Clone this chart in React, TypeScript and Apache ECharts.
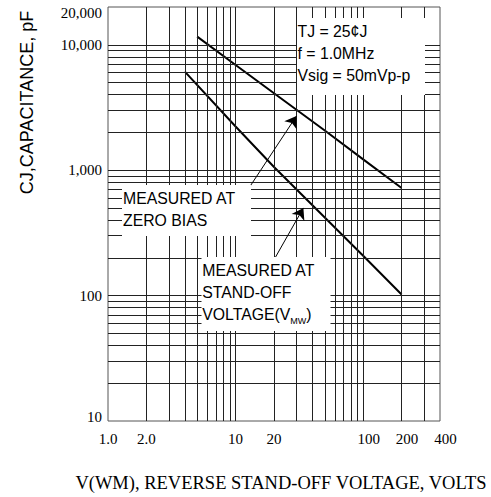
import React, { useEffect, useRef } from 'react';
import * as echarts from 'echarts';

// Axis ticks
const xTickValues = [1, 2, 10, 20, 100, 200, 400];
const xTickLabels = ['1.0', '2.0', '10', '20', '100', '200', '400'];
const yTickValues = [10, 100, 1000, 10000, 20000];
const yTickLabels = ['10', '100', '1,000', '10,000', '20,000'];

// Log grid lines
const xGridValues = [2, 3, 4, 5, 6, 7, 8, 9, 10, 20, 30, 40, 50, 60, 70, 80, 90, 100, 200, 300];
const yGridValues = [
  20, 30, 40, 50, 60, 70, 80, 90, 100,
  200, 300, 400, 500, 600, 700, 800, 900, 1000,
  2000, 3000, 4000, 5000, 6000, 7000, 8000, 9000, 10000,
];

// Measured at zero bias
const zeroBiasV = [5, 10, 20, 50, 100, 200];
const zeroBiasC = [11600, 6900, 4100, 2070, 1220, 720];
// Measured at stand-off voltage
const standOffV = [4, 10, 20, 50, 100, 200];
const standOffC = [6100, 2230, 1060, 420, 208, 102];

// Annotation arrows (data coordinates: [V, pF])
const arrowZeroBias = [[13, 745], [30, 2700]];
const arrowStandOff = [[20.4, 200], [34, 500]];

function findLabel(v: number, vals: number[], labels: string[]) {
  for (let i = 0; i < vals.length; i++) {
    if (Math.abs(Math.log10(v) - Math.log10(vals[i])) < 1e-6) return i;
  }
  return -1;
}

export default function App() {
  const ref = useRef<HTMLDivElement>(null);
  useEffect(() => {
    if (!ref.current) return;
    const chart = echarts.init(ref.current, undefined, { renderer: 'svg' });
    const serif = '"Liberation Serif", "Times New Roman", serif';
    const sans = '"Liberation Sans", Arial, sans-serif';
    const annoFont = `15.8px ${sans}`;
    const option: any = {
      animation: false,
      backgroundColor: '#fff',
      grid: {
        left: 108,
        top: 7,
        width: 332,
        height: 415,
        show: true,
        borderColor: '#555',
        borderWidth: 1,
        backgroundColor: 'transparent',
      },
      xAxis: {
        type: 'log',
        logBase: 10,
        min: 1,
        max: 400,
        name: 'V(WM), REVERSE STAND-OFF VOLTAGE, VOLTS',
        nameLocation: 'middle',
        nameGap: 52,
        nameTextStyle: {
          fontFamily: serif,
          fontSize: 18.5,
          color: '#000',
          padding: [0, 0, 0, 14],
        },
        axisLine: { show: false },
        axisTick: { show: false },
        splitLine: { show: false },
        minorTick: { show: false },
        axisLabel: {
          customValues: xTickValues,
          margin: 10,
          fontFamily: serif,
          fontSize: 15,
          color: '#000',
          formatter: (v: number) => {
            const i = findLabel(v, xTickValues, xTickLabels);
            if (i < 0) return '';
            const t = xTickLabels[i];
            return v >= 99 ? `{r|${t}}` : t;
          },
          rich: {
            r: { fontFamily: serif, fontSize: 15, color: '#000', padding: [0, 0, 0, 11] },
          },
        },
      },
      yAxis: {
        type: 'log',
        logBase: 10,
        min: 10,
        max: 20000,
        axisLine: { show: false },
        axisTick: { show: false },
        splitLine: { show: false },
        minorTick: { show: false },
        axisLabel: {
          customValues: yTickValues,
          margin: 6,
          fontFamily: serif,
          fontSize: 15,
          color: '#000',
          formatter: (v: number) => {
            const i = findLabel(v, yTickValues, yTickLabels);
            if (i < 0) return '';
            const t = yTickLabels[i];
            if (i === yTickValues.length - 1) return `{top|${t}}`;
            if (i === 0) return `{bot|${t}}`;
            return t;
          },
          rich: {
            top: { fontFamily: serif, fontSize: 15, color: '#000', padding: [12, 0, 0, 0] },
            bot: { fontFamily: serif, fontSize: 15, color: '#000', padding: [0, 0, 8, 0] },
          },
        },
      },
      series: [
        {
          type: 'line',
          name: 'grid',
          data: [],
          z: 1,
          silent: true,
          markLine: {
            silent: true,
            symbol: 'none',
            label: { show: false },
            lineStyle: { color: '#222', width: 1, type: 'solid' },
            data: [
              ...xGridValues.map((v) => ({ xAxis: v })),
              ...yGridValues.map((v) => ({ yAxis: v })),
            ],
          },
        },
        {
          type: 'line',
          name: 'MEASURED AT ZERO BIAS',
          data: zeroBiasV.map((v, i) => [v, zeroBiasC[i]]),
          symbol: 'none',
          z: 3,
          lineStyle: { color: '#000', width: 2 },
          markLine: {
            silent: true,
            symbol: ['none', 'arrow'],
            symbolSize: 11,
            label: { show: false },
            lineStyle: { color: '#000', width: 1, type: 'solid' },
            data: [[{ coord: arrowZeroBias[0] }, { coord: arrowZeroBias[1] }]],
          },
        },
        {
          type: 'line',
          name: 'MEASURED AT STAND-OFF VOLTAGE',
          data: standOffV.map((v, i) => [v, standOffC[i]]),
          symbol: 'none',
          z: 3,
          lineStyle: { color: '#000', width: 2 },
          markLine: {
            silent: true,
            symbol: ['none', 'arrow'],
            symbolSize: 11,
            label: { show: false },
            lineStyle: { color: '#000', width: 1, type: 'solid' },
            data: [[{ coord: arrowStandOff[0] }, { coord: arrowStandOff[1] }]],
          },
        },
      ],
      graphic: {
        elements: [
          {
            type: 'text',
            x: 27,
            y: 102.5,
            rotation: Math.PI / 2,
            z: 100,
            style: {
              text: 'CJ,CAPACITANCE, pF',
              font: `18px ${sans}`,
              fill: '#000',
              align: 'center',
              verticalAlign: 'middle',
            },
          },
          {
            type: 'rect',
            z: 100,
            shape: { x: 297, y: 18, width: 128, height: 77 },
            style: { fill: '#fff' },
          },
          {
            type: 'text',
            x: 297.5,
            y: 20,
            z: 101,
            style: {
              text: 'TJ = 25¢J\nf = 1.0MHz\nVsig = 50mVp-p',
              font: annoFont,
              lineHeight: 22,
              fill: '#000',
              align: 'left',
              verticalAlign: 'top',
            },
          },
          {
            type: 'rect',
            z: 100,
            shape: { x: 122, y: 185, width: 129, height: 51 },
            style: { fill: '#fff' },
          },
          {
            type: 'text',
            x: 123,
            y: 187,
            z: 101,
            style: {
              text: 'MEASURED AT\nZERO BIAS',
              font: annoFont,
              lineHeight: 22,
              fill: '#000',
              align: 'left',
              verticalAlign: 'top',
            },
          },
          {
            type: 'rect',
            z: 100,
            shape: { x: 201.5, y: 257, width: 129, height: 74 },
            style: { fill: '#fff' },
          },
          {
            type: 'text',
            x: 202.3,
            y: 259.5,
            z: 101,
            style: {
              text: 'MEASURED AT\nSTAND-OFF\nVOLTAGE(V{sub|MW})',
              font: annoFont,
              lineHeight: 22,
              fill: '#000',
              align: 'left',
              verticalAlign: 'top',
              rich: {
                sub: {
                  fontFamily: sans,
                  fontSize: 9,
                  lineHeight: 14,
                  verticalAlign: 'bottom',
                  fill: '#000',
                },
              },
            },
          },
        ],
      },
    };
    chart.setOption(option);
    return () => chart.dispose();
  }, []);
  return (
    <div
      ref={ref}
      style={{ position: 'fixed', left: 0, top: 0, width: 491, height: 497, background: '#fff' }}
    />
  );
}
